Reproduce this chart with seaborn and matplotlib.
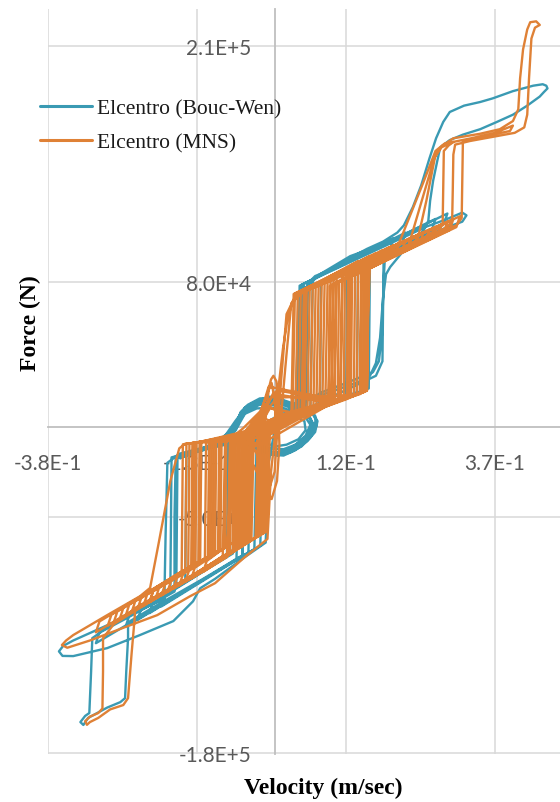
import matplotlib
matplotlib.use("Agg")
import matplotlib.pyplot as plt
import seaborn as sns
import pandas as pd

# ---------------- data (velocity m/s, force N) ----------------
x_ticks = [-0.38, -0.13, 0.12, 0.37]
x_tick_labels = ["-3.8E-1", "-1.3E-1", "1.2E-1", "3.7E-1"]
y_ticks = [-180000, -50000, 80000, 210000]
y_tick_labels = ["-1.8E+5", "-5.0E+4", "8.0E+4", "2.1E+5"]

series_names = ["Elcentro (Bouc-Wen)", "Elcentro (MNS)"]

# Bouc-Wen
bw_big = [(0.000, -2e3), (0.020, 8e3), (0.043, 15.5e3), (0.046, 40e3), (0.048, 71e3), (0.056, 79e3),
          (0.068, 83e3), (0.098, 87e3), (0.127, 93e3), (0.155, 98e3), (0.182, 102e3), (0.206, 107e3),
          (0.217, 111e3), (0.232, 121e3), (0.246, 133e3), (0.260, 148e3), (0.271, 159e3), (0.283, 168e3),
          (0.294, 173.5e3), (0.318, 177e3), (0.345, 179e3), (0.366, 181e3), (0.400, 185e3), (0.434, 188e3),
          (0.450, 188.8e3), (0.456, 188e3), (0.458, 186.5e3), (0.452, 184.5e3), (0.445, 182e3), (0.424, 177e3),
          (0.400, 172e3), (0.373, 168e3),
          (0.345, 164e3), (0.316, 161e3), (0.294, 158e3), (0.278, 154e3), (0.273, 146.5e3), (0.266, 135.5e3),
          (0.261, 124.5e3), (0.258, 113.5e3), (0.247, 106e3), (0.219, 98e3), (0.194, 88e3), (0.187, 84e3),
          (0.182, 71e3), (0.177, 49e3), (0.170, 35e3), (0.160, 28e3), (0.144, 25e3), (0.110, 21e3),
          (0.076, 17e3), (0.043, 13e3), (0.018, 8e3), (0.000, 3e3)]
bw_center1 = [(-0.159, -17.5e3), (-0.108, -11e3), (-0.075, -6e3), (-0.060, 3e3), (-0.050, 10.5e3),
              (-0.030, 14e3), (-0.008, 16.5e3), (0.010, 15e3), (0.030, 12e3), (0.055, 9.5e3), (0.068, 6e3),
              (0.071, 1e3), (0.062, -5e3), (0.045, -10e3), (0.025, -14e3), (0.005, -16e3), (-0.015, -14e3),
              (-0.040, -9e3), (-0.060, -7e3), (-0.100, -10e3)]
bw_neg_outer = [(0.000, -2e3), (-0.010, -20e3), (-0.015, -64e3), (-0.050, -72e3), (-0.100, -84e3),
                (-0.125, -89.2e3), (-0.137, -96.4e3), (-0.170, -107.3e3), (-0.226, -115e3), (-0.281, -122.2e3),
                (-0.338, -126.6e3), (-0.356, -126.5e3), (-0.362, -124e3), (-0.355, -121e3), (-0.338, -118e3),
                (-0.281, -109.6e3), (-0.226, -101.3e3), (-0.185, -95e3), (-0.183, -60e3), (-0.180, -20e3),
                (-0.160, -15e3), (-0.108, -10.6e3), (-0.080, -6.5e3)]
bw_center2 = [(-0.130, -14e3), (-0.090, -9e3), (-0.065, -2e3), (-0.055, 6e3), (-0.040, 11e3), (-0.020, 13e3),
              (0.000, 13.5e3), (0.030, 10e3), (0.055, 7e3), (0.064, 2e3), (0.058, -4e3), (0.040, -9e3),
              (0.020, -13e3), (0.000, -14.5e3), (-0.025, -12e3), (-0.050, -7e3), (-0.080, -8e3)]
bw_second = [(0.000, 0), (0.035, 10e3), (0.040, 60e3), (0.050, 76e3), (0.076, 84e3), (0.127, 94e3),
             (0.194, 102e3), (0.244, 109e3), (0.286, 114e3), (0.315, 118e3), (0.322, 116.5e3), (0.315, 113e3),
             (0.290, 110e3), (0.261, 106e3), (0.211, 99e3), (0.185, 93e3), (0.183, 80e3), (0.180, 50e3),
             (0.175, 36e3), (0.165, 30e3), (0.120, 24e3), (0.080, 19e3), (0.040, 12e3), (0.010, 4e3)]
bw_inner = [(0.038, 6.6e3), (0.042, 77.7e3), (0.290, 117.5e3), (0.284, 111.6e3), (0.183, 94.5e3), (0.181, 36e3),
            (0.170, 28e3), (0.010, 3e3),
            (-0.020, -4.6e3), (-0.024, -65.7e3), (-0.300, -119.5e3), (-0.294, -113.5e3), (-0.175, -89.4e3),
            (-0.173, -17e3), (-0.010, -3e3),
            (0.045, 7.4e3), (0.049, 78.8e3), (0.250, 109.5e3), (0.244, 103.6e3), (0.140, 88e3), (0.138, 18.8e3),
            (0.005, 4e3),
            (-0.040, -6.2e3), (-0.044, -69.4e3), (-0.250, -110.3e3), (-0.244, -104.3e3), (-0.165, -87.5e3),
            (-0.163, -16.2e3), (-0.010, -2e3),
            (0.052, 8.2e3), (0.056, 79.8e3), (0.220, 107e3), (0.214, 101e3), (0.122, 85.3e3), (0.120, 16.6e3),
            (0.000, 5e3),
            (-0.060, -7.8e3), (-0.064, -73.1e3), (-0.210, -102.9e3), (-0.204, -96.9e3), (-0.150, -84.8e3),
            (-0.148, -15e3), (-0.020, -3e3),
            (0.060, 9.2e3), (0.064, 81e3), (0.200, 104e3), (0.194, 98e3), (0.078, 78.7e3), (0.076, 11.4e3),
            (0.005, 2e3),
            (-0.030, -5.4e3), (-0.034, -67.6e3), (-0.190, -99.2e3), (-0.184, -93.2e3), (-0.080, -71.8e3),
            (-0.078, -9.4e3), (-0.010, -2e3),
            (0.042, 7e3), (0.046, 78.3e3), (0.270, 114.5e3), (0.264, 108.5e3), (0.160, 91e3), (0.158, 21e3),
            (0.000, 3e3),
            (-0.050, -7e3), (-0.054, -71.3e3), (-0.230, -106.6e3), (-0.224, -100.6e3), (-0.070, -70e3),
            (-0.068, -8.6e3)]
bw_center3 = [(-0.110, -11e3), (-0.070, -4e3), (-0.058, 4e3), (-0.045, 9e3), (-0.025, 12e3), (0.000, 12e3),
              (0.025, 9e3), (0.050, 6e3), (0.060, 1e3), (0.052, -5e3), (0.035, -10e3), (0.015, -12.5e3),
              (-0.010, -12e3), (-0.035, -8e3), (-0.060, -5e3), (-0.090, -8e3)]
bw_drop = [(-0.050, -7e3), (-0.054, -71e3), (-0.120, -84e3), (-0.200, -99e3), (-0.246, -108e3),
           (-0.246, -116.7e3), (-0.249, -135e3), (-0.251, -149.8e3), (-0.259, -152e3), (-0.281, -155e3),
           (-0.313, -160.7e3), (-0.321, -164.6e3), (-0.326, -163e3), (-0.318, -159.6e3), (-0.311, -158e3),
           (-0.308, -135e3), (-0.306, -116.7e3), (-0.290, -113e3), (-0.250, -106e3), (-0.200, -97e3),
           (-0.168, -91e3), (-0.168, -50e3), (-0.166, -17e3), (-0.100, -10e3)]
bw_center4 = [(-0.140, -15e3), (-0.100, -10e3), (-0.068, -1e3), (-0.058, 7e3), (-0.040, 12.5e3),
              (-0.015, 15e3), (0.010, 14e3), (0.040, 11e3), (0.060, 9e3), (0.069, 4e3), (0.066, -2e3),
              (0.050, -8e3), (0.030, -13e3), (0.010, -15.5e3), (-0.020, -14e3), (-0.045, -9e3),
              (-0.070, -9e3), (-0.120, -13e3)]
bw_center5 = [(-0.080, -6e3), (-0.062, 0), (-0.050, 7e3), (-0.030, 10e3), (0.000, 10.5e3), (0.030, 7e3),
              (0.050, 3e3), (0.052, -2e3), (0.040, -7e3), (0.020, -10e3), (0.000, -11e3), (-0.030, -7e3),
              (-0.060, -4e3)]
bw_center6 = [(-0.150, -16e3), (-0.110, -12e3), (-0.080, -7e3), (-0.065, 0), (-0.057, 8e3), (-0.045, 12e3),
              (-0.025, 15.5e3), (0.000, 16e3), (0.020, 14e3), (0.045, 11e3), (0.063, 8e3), (0.072, 3e3),
              (0.068, -3e3), (0.055, -8e3), (0.035, -13e3), (0.015, -16e3), (-0.005, -15.5e3),
              (-0.030, -12e3), (-0.055, -9e3), (-0.090, -10e3)]
bw_center7 = [(-0.120, -12e3), (-0.085, -6e3), (-0.066, 3e3), (-0.052, 9e3), (-0.035, 13e3), (-0.012, 14.5e3),
              (0.015, 13e3), (0.040, 10e3), (0.058, 6e3), (0.066, 0), (0.060, -6e3), (0.045, -11e3),
              (0.025, -14.5e3), (0.005, -15e3), (-0.020, -13e3), (-0.045, -8e3), (-0.075, -8e3)]
bw_center8 = [(-0.100, -9e3), (-0.072, -2e3), (-0.060, 5e3), (-0.048, 10e3), (-0.030, 12.5e3), (-0.005, 14e3),
              (0.020, 12e3), (0.045, 8e3), (0.060, 4e3), (0.063, -1e3), (0.055, -6e3), (0.038, -11e3),
              (0.018, -14e3), (-0.005, -14e3), (-0.030, -10e3), (-0.055, -6e3), (-0.160, -17e3)]

# MNS
mns_spike = [(0.000, 2e3), (0.006, 20e3), (0.014, 43e3), (0.022, 60e3), (0.030, 69e3), (0.045, 74e3),
             (0.076, 78e3), (0.120, 84e3), (0.177, 92e3), (0.211, 98e3), (0.240, 103e3), (0.255, 125e3),
             (0.270, 150e3), (0.282, 155e3), (0.300, 159e3), (0.345, 161.5e3), (0.378, 164e3), (0.400, 168.5e3),
             (0.409, 175e3), (0.412, 192e3), (0.417, 208e3), (0.424, 219e3), (0.429, 223e3), (0.439, 223.5e3),
             (0.445, 221.5e3), (0.437, 220e3), (0.431, 214e3), (0.427, 192e3), (0.424, 172e3), (0.419, 165e3),
             (0.403, 162e3), (0.370, 160e3), (0.328, 157.5e3), (0.303, 155.5e3), (0.300, 150e3), (0.299, 130e3),
             (0.298, 114e3), (0.290, 110e3), (0.244, 103e3), (0.194, 95e3), (0.160, 89e3), (0.157, 60e3),
             (0.155, 22e3), (0.144, 18e3), (0.093, 12.5e3), (0.043, 7e3), (0.000, 2e3)]
mns_neg_outer = [(0.003, 2e3), (-0.006, -25e3), (-0.012, -62e3), (-0.050, -72e3), (-0.100, -86.4e3),
                 (-0.142, -93.6e3), (-0.197, -104e3), (-0.254, -111e3), (-0.310, -118e3), (-0.348, -122e3),
                 (-0.357, -120.5e3), (-0.350, -118e3), (-0.338, -115e3), (-0.281, -104e3), (-0.226, -93.6e3),
                 (-0.209, -89e3), (-0.195, -65e3), (-0.175, -30e3), (-0.160, -12e3), (-0.150, -9.5e3),
                 (-0.125, -8.8e3), (-0.080, -8.3e3), (-0.053, -1e3), (-0.024, 8.4e3), (-0.012, 18e3),
                 (-0.006, 26e3), (-0.002, 28e3), (0.003, 25e3), (0.006, 15e3), (0.010, 5e3)]
mns_spike2 = [(0.010, 3e3), (0.020, 40e3), (0.028, 68e3), (0.050, 75e3), (0.120, 86e3), (0.205, 98e3),
              (0.250, 135e3), (0.270, 152e3), (0.285, 156e3), (0.330, 159e3), (0.370, 162e3), (0.400, 166e3),
              (0.395, 163e3), (0.350, 160e3), (0.316, 157e3), (0.315, 135e3), (0.314, 115e3), (0.305, 111e3),
              (0.260, 105e3), (0.200, 96e3), (0.158, 89e3), (0.156, 50e3), (0.154, 20e3), (0.120, 15e3),
              (0.060, 8e3), (0.010, 2e3)]
mns_inner_a = [(0.030, 4.6e3), (0.034, 73.4e3), (0.311, 116e3), (0.305, 110e3), (0.157, 86.8e3), (0.155, 19.8e3),
               (0.010, 3e3),
               (-0.016, -2.8e3), (-0.020, -59e3), (-0.300, -113.5e3), (-0.294, -107.5e3), (-0.145, -77.8e3),
               (-0.143, -9.3e3), (-0.010, -3e3),
               (0.045, 6.4e3), (0.049, 75.5e3), (0.270, 110.2e3), (0.264, 104.2e3), (0.145, 85e3), (0.143, 18.4e3),
               (0.005, 6e3),
               (-0.028, -3.4e3), (-0.032, -61.2e3), (-0.260, -106.1e3), (-0.254, -100.1e3), (-0.133, -75.6e3),
               (-0.131, -8.7e3), (-0.020, -2e3),
               (0.055, 7.6e3), (0.059, 77e3), (0.240, 105.8e3), (0.234, 99.8e3), (0.130, 82.9e3), (0.128, 16.6e3),
               (0.003, 4e3),
               (-0.041, -4e3), (-0.045, -63.6e3), (-0.230, -100.6e3), (-0.224, -94.6e3), (-0.125, -74.1e3),
               (-0.123, -8.3e3), (-0.015, 0),
               (0.065, 8.8e3), (0.069, 78.4e3), (0.220, 102.9e3), (0.214, 96.9e3), (0.113, 80.4e3), (0.111, 14.6e3),
               (0.008, 4e3),
               (-0.049, -4.5e3), (-0.053, -65.1e3), (-0.210, -96.9e3), (-0.204, -90.9e3), (-0.117, -72.6e3),
               (-0.115, -7.9e3), (-0.012, -1e3),
               (0.075, 10e3), (0.079, 79.9e3), (0.200, 100e3), (0.194, 94e3), (0.150, 85.8e3), (0.148, 19e3),
               (0.000, 1e3),
               (-0.058, -4.9e3), (-0.062, -66.7e3), (-0.190, -93.2e3), (-0.184, -87.2e3), (-0.108, -71e3),
               (-0.106, -7.4e3), (-0.020, -3e3)]
mns_inner_b = [(0.085, 11.2e3), (0.089, 81.3e3), (0.180, 97.1e3), (0.174, 91.1e3), (0.123, 81.8e3),
               (0.121, 15.8e3), (0.004, 2e3),
               (-0.066, -5.3e3), (-0.070, -68.2e3), (-0.170, -89.5e3), (-0.164, -83.5e3), (-0.100, -69.5e3),
               (-0.098, -7e3), (-0.008, -2e3),
               (0.095, 12.4e3), (0.099, 82.8e3), (0.250, 107.3e3), (0.244, 101.3e3), (0.140, 84.3e3),
               (0.138, 17.8e3), (0.002, 0),
               (-0.075, -5.75e3), (-0.079, -69.9e3), (-0.200, -95e3), (-0.194, -89e3), (-0.091, -67.8e3),
               (-0.089, -6.6e3), (-0.018, -1e3),
               (0.040, 5.8e3), (0.044, 74.8e3), (0.160, 94.2e3), (0.154, 88.2e3), (0.103, 78.9e3), (0.101, 13.4e3),
               (0.000, -1e3),
               (-0.083, -6.2e3), (-0.087, -71.4e3), (-0.160, -87.6e3), (-0.154, -81.6e3), (-0.140, -76.9e3),
               (-0.138, -9e3), (-0.010, -4e3),
               (0.060, 8.2e3), (0.064, 77.7e3), (0.140, 91.3e3), (0.134, 85.3e3), (0.093, 77.5e3), (0.091, 12.2e3),
               (0.000, 2e3),
               (-0.020, -3e3), (-0.024, -59.7e3), (-0.140, -83.9e3), (-0.134, -77.9e3), (-0.070, -64e3),
               (-0.068, -5.5e3), (-0.005, -2e3),
               (0.035, 5.2e3), (0.039, 74.1e3), (0.200, 100e3), (0.194, 94e3), (0.152, 86e3), (0.150, 19.2e3),
               (0.010, 4e3),
               (-0.035, -3.75e3), (-0.039, -62.5e3), (-0.120, -80.2e3), (-0.114, -74.2e3), (-0.083, -66.4e3),
               (-0.081, -6.2e3), (-0.010, -1e3)]
mns_inner_c = [(0.028, 4.4e3), (0.032, 73.1e3), (0.290, 113e3), (0.284, 107.2e3), (0.118, 81.1e3),
               (0.116, 15.2e3), (0.012, 6e3),
               (-0.012, -2.6e3), (-0.016, -58.2e3), (-0.280, -109.8e3), (-0.274, -103.8e3), (-0.150, -78.8e3),
               (-0.148, -9.5e3), (-0.035, -5e3), (-0.006, 4e3),
               (0.050, 7e3), (0.054, 76.3e3), (0.230, 104.4e3), (0.224, 98.4e3), (0.135, 83.6e3), (0.133, 17.2e3),
               (0.004, 16e3),
               (-0.045, -4.25e3), (-0.049, -64.3e3), (-0.240, -102.4e3), (-0.234, -96.4e3), (-0.112, -71.7e3),
               (-0.110, -7.6e3), (-0.016, -6e3),
               (0.070, 9.4e3), (0.074, 79.2e3), (0.170, 95.7e3), (0.164, 89.7e3), (0.108, 79.7e3), (0.106, 14e3),
               (0.004, 20e3),
               (-0.054, -4.7e3), (-0.058, -66e3), (-0.180, -91.3e3), (-0.174, -85.3e3), (-0.128, -74.7e3),
               (-0.126, -8.4e3), (-0.035, -5e3), (-0.012, 2e3),
               (0.080, 10.6e3), (0.084, 80.6e3), (0.260, 108.7e3), (0.254, 102.7e3), (0.155, 86.5e3),
               (0.153, 19.6e3), (0.003, 5e3),
               (-0.062, -5.1e3), (-0.066, -67.5e3), (-0.220, -98.7e3), (-0.214, -92.7e3), (-0.095, -68.6e3),
               (-0.093, -6.75e3), (-0.025, -10e3)]
mns_inner_d = [(0.090, 11.8e3), (0.094, 82.1e3), (0.210, 101.5e3), (0.204, 95.5e3), (0.127, 82.4e3),
               (0.125, 16.2e3), (0.006, 3e3),
               (-0.071, -5.55e3), (-0.075, -69.1e3), (-0.150, -85.75e3), (-0.144, -79.75e3), (-0.104, -70.2e3),
               (-0.102, -7.1e3), (-0.035, -5e3), (-0.003, 18e3),
               (0.100, 13e3), (0.104, 83.5e3), (0.190, 98.6e3), (0.184, 92.6e3), (0.146, 85.2e3), (0.144, 18.5e3),
               (0.004, 2e3),
               (-0.024, -3.2e3), (-0.028, -60.4e3), (-0.270, -108e3), (-0.264, -102e3), (-0.137, -76.3e3),
               (-0.135, -8.85e3), (-0.035, -5e3), (-0.008, 10e3),
               (0.048, 6.8e3), (0.052, 76e3), (0.300, 114.5e3), (0.294, 108.5e3), (0.098, 78.2e3), (0.096, 12.8e3),
               (0.004, 4e3),
               (-0.008, -2.4e3), (-0.012, -57.5e3), (-0.250, -104.25e3), (-0.244, -98.25e3), (-0.156, -79.9e3),
               (-0.154, -9.8e3), (-0.035, -5e3), (-0.010, 22e3),
               (0.110, 14.2e3), (0.114, 85e3), (0.280, 111.6e3), (0.274, 105.6e3), (0.157, 86.8e3),
               (0.155, 19.8e3), (0.006, 3e3),
               (-0.037, -3.85e3), (-0.041, -62.8e3), (-0.210, -96.85e3), (-0.204, -90.85e3), (-0.062, -62.5e3),
               (-0.060, -5.1e3), (-0.020, 5e3)]
mns_center = [(-0.060, -20e3), (-0.030, -10e3), (-0.015, 5e3), (-0.010, 20e3), (-0.005, 24e3), (0.000, 15e3),
              (0.004, -5e3), (0.000, -25e3), (-0.010, -35e3), (-0.020, -30e3), (-0.030, -15e3), (-0.045, -5e3),
              (-0.020, 10e3), (0.000, 18e3), (0.006, 10e3), (0.008, -10e3), (0.004, -30e3), (-0.005, -40e3),
              (-0.030, -25e3), (-0.050, -12e3), (-0.030, 2e3), (-0.015, 12e3)]
mns_spike3 = [(0.005, 1e3), (0.012, 30e3), (0.020, 62e3), (0.035, 72e3), (0.100, 82e3), (0.180, 93e3),
              (0.225, 100e3), (0.250, 128e3), (0.268, 148e3), (0.280, 154e3), (0.300, 157e3), (0.292, 155e3),
              (0.284, 152e3), (0.283, 130e3), (0.282, 111e3), (0.250, 104e3), (0.180, 93e3), (0.153, 88e3),
              (0.152, 45e3), (0.150, 19e3), (0.100, 13e3), (0.040, 6e3), (0.000, 0)]
mns_drop = [(-0.050, -5e3), (-0.055, -66e3), (-0.120, -79e3), (-0.180, -90e3), (-0.234, -100e3),
            (-0.235, -106e3), (-0.240, -125e3), (-0.246, -149.8e3), (-0.254, -153.6e3), (-0.276, -156e3),
            (-0.296, -160.7e3), (-0.310, -163e3), (-0.315, -164.5e3), (-0.318, -162.5e3), (-0.310, -160e3),
            (-0.296, -158e3), (-0.289, -155.5e3), (-0.288, -135e3), (-0.288, -116.7e3), (-0.270, -109e3),
            (-0.226, -100e3), (-0.170, -89e3), (-0.120, -80e3), (-0.080, -72e3), (-0.075, -40e3),
            (-0.072, -6e3)]

bw_path = (bw_big + bw_center1 + bw_neg_outer + bw_center2 + bw_second + bw_inner + bw_center3 + bw_drop
           + bw_center4 + bw_center5 + bw_center6 + bw_center7 + bw_center8)
mns_path = (mns_spike + mns_neg_outer + mns_spike2 + mns_inner_a + mns_inner_b + mns_center + mns_inner_c
            + mns_inner_d + mns_spike3 + mns_drop)

df_bw = pd.DataFrame(bw_path, columns=["v", "F"])
df_mns = pd.DataFrame(mns_path, columns=["v", "F"])

# ---------------- style ----------------
sns.set_style("white")
plt.rcParams["font.family"] = ["Lato", "DejaVu Sans"]

TEAL = "#3A9AB3"
ORANGE = "#DF8136"
GRID = "#D9D9D9"
TICK_COL = "#595959"

fig = plt.figure(figsize=(5.6, 8.03), dpi=100)
ax = fig.add_axes([47.5 / 560, 48 / 803, 1 - 47.5 / 560, 745 / 803])

sns.lineplot(data=df_bw, x="v", y="F", sort=False, estimator=None, color=TEAL, lw=1.7,
             label=series_names[0], ax=ax)
sns.lineplot(data=df_mns, x="v", y="F", sort=False, estimator=None, color=ORANGE, lw=1.7,
             label=series_names[1], ax=ax)

ax.set_xlim(-0.3812, 0.479)
ax.set_ylim(-180600, 230300)

ax.set_xticks(x_ticks, labels=x_tick_labels)
ax.set_yticks(y_ticks, labels=y_tick_labels)
ax.grid(True, color=GRID, lw=1.1)
ax.set_axisbelow(True)

for s in ["top", "right"]:
    ax.spines[s].set_visible(False)
ax.spines["left"].set_position(("data", 0))
ax.spines["bottom"].set_position(("data", 0))
for s in ["left", "bottom"]:
    ax.spines[s].set_color("#BFBFBF")
    ax.spines[s].set_linewidth(1.3)
    ax.spines[s].set_zorder(1)

ax.tick_params(axis="both", length=0, labelsize=15, labelcolor=TICK_COL)
ax.tick_params(axis="x", pad=19)
ax.tick_params(axis="y", pad=17)
ax.set_xlabel("")
ax.set_ylabel("")

fig.text(323 / 560, 1 - 788 / 803, "Velocity (m/sec)", ha="center", va="center",
         family="Liberation Serif", fontweight="bold", fontsize=17, color="black")
fig.text(30 / 560, 1 - 323 / 803, "Force (N)", ha="center", va="center", rotation=90,
         family="Liberation Serif", fontweight="bold", fontsize=17, color="black")

leg = ax.legend(loc="upper left", bbox_to_anchor=(40 / 560, 1 - 99 / 803), bbox_transform=fig.transFigure,
                frameon=False, prop={"family": "Liberation Serif", "size": 15.5}, handlelength=2.4,
                handletextpad=0.25, labelspacing=0.68, borderpad=0, borderaxespad=0)
for t in leg.get_texts():
    t.set_color("#1a1a1a")
for h in leg.get_lines():
    h.set_linewidth(2.2)

fig.savefig("out.png", dpi=100)
